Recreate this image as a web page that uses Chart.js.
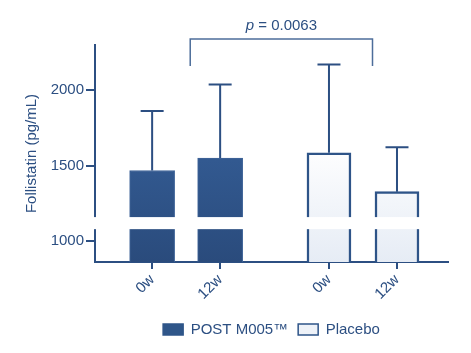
<!DOCTYPE html>
<html>
<head>
<meta charset="utf-8">
<script src="https://cdn.jsdelivr.net/npm/chart.js@4"></script>
<style>
  html, body { margin: 0; padding: 0; background: #fff; }
  #wrap { width: 471px; height: 353px; }
</style>
</head>
<body>
<div id="wrap"><canvas id="c"></canvas></div>
<script>
// values
const groupLabels = ["POST M005\u2122", "Placebo"];
const tickLabels = ["0w", "12w", "0w", "12w"];
const tickPos = [0, 1, 2.6, 3.6];
const postMeans = [1467, 1550];
const placeboMeans = [1585, 1327];
const postSD = [1862, 2038];     // top of error bar
const placeboSD = [2171, 1622];
const yTicks = [1000, 1500, 2000];
const pText = "= 0.0063";

const ink = "#2c4f82";
const yMin = 860, yMax = 2300;
const gapLow = 1078, gapHigh = 1158;
const bracket = { x1: 0.56, x2: 3.24, top: 2340, foot: 2160 };

function gradFill(ctx, c1, c2, stop) {
  const area = ctx.chart.chartArea;
  if (!area) return c2;
  const g = ctx.chart.ctx.createLinearGradient(0, area.top, 0, area.bottom);
  g.addColorStop(0, c1);
  g.addColorStop(stop, c1);
  g.addColorStop(1, c2);
  return g;
}

// error bars, gap in the axis and the p-value bracket
const extras = {
  id: "extras",
  afterDatasetsDraw(chart) {
    const ctx = chart.ctx;
    const xs = chart.scales.x, ys = chart.scales.y;
    const area = chart.chartArea;
    const tops = [postSD, placeboSD];
    const means = [postMeans, placeboMeans];
    ctx.save();
    ctx.strokeStyle = ink;
    ctx.lineWidth = 2;
    [0, 1].forEach(function(d) {
      chart.data.datasets[d].data.forEach(function(p, i) {
        const x = xs.getPixelForValue(p.x);
        const yb = ys.getPixelForValue(means[d][i]);
        const yt = ys.getPixelForValue(tops[d][i]);
        ctx.beginPath();
        ctx.moveTo(x, yb);
        ctx.lineTo(x, yt);
        ctx.moveTo(x - 11.5, yt);
        ctx.lineTo(x + 11.5, yt);
        ctx.stroke();
      });
    });

    // axis break
    const g1 = ys.getPixelForValue(gapHigh);
    const g2 = ys.getPixelForValue(gapLow);
    ctx.fillStyle = "#ffffff";
    ctx.fillRect(area.left - 3, g1, area.right - area.left + 6, g2 - g1);

    // bracket
    const bx1 = xs.getPixelForValue(bracket.x1);
    const bx2 = xs.getPixelForValue(bracket.x2);
    const by = ys.getPixelForValue(bracket.top);
    const bf = ys.getPixelForValue(bracket.foot);
    ctx.strokeStyle = "#4d6d9a";
    ctx.lineWidth = 1.5;
    ctx.beginPath();
    ctx.moveTo(bx1, bf);
    ctx.lineTo(bx1, by);
    ctx.lineTo(bx2, by);
    ctx.lineTo(bx2, bf);
    ctx.stroke();

    ctx.fillStyle = ink;
    ctx.textBaseline = "alphabetic";
    ctx.font = "italic 15px 'Liberation Sans', Arial, sans-serif";
    const pw = ctx.measureText("p ").width;
    ctx.font = "15px 'Liberation Sans', Arial, sans-serif";
    const tw = ctx.measureText(pText).width;
    const cx = (bx1 + bx2) / 2;
    let sx = cx - (pw + tw) / 2;
    ctx.font = "italic 15px 'Liberation Sans', Arial, sans-serif";
    ctx.fillText("p", sx, by - 9);
    ctx.font = "15px 'Liberation Sans', Arial, sans-serif";
    ctx.fillText(pText, sx + pw, by - 9);
    ctx.restore();
  }
};

new Chart(document.getElementById("c"), {
  type: "bar",
  data: {
    datasets: [
      {
        label: groupLabels[0],
        data: postMeans.map(function(v, i) { return { x: tickPos[i], y: v }; }),
        backgroundColor: function(ctx) { return gradFill(ctx, "#36609a", "#2a4b7c", 0.3); },
        borderColor: "#3f6498",
        borderWidth: 1,
        barThickness: 45
      },
      {
        label: groupLabels[1],
        data: placeboMeans.map(function(v, i) { return { x: tickPos[i + 2], y: v }; }),
        backgroundColor: function(ctx) { return gradFill(ctx, "#ffffff", "#e6ecf5", 0.45); },
        borderColor: "#2e5488",
        borderWidth: 2.5,
        barThickness: 44
      }
    ]
  },
  options: {
    responsive: true,
    maintainAspectRatio: false,
    animation: false,
    layout: { padding: { top: 45, right: 23, left: 0, bottom: 6 } },
    datasets: { bar: { grouped: false, base: yMin } },
    plugins: {
      legend: {
        display: true,
        position: "bottom",
        fullSize: false,
        labels: {
          color: ink,
          boxWidth: 20,
          boxHeight: 11,
          padding: 10,
          font: { family: "'Liberation Sans', Arial, sans-serif", size: 15 },
          generateLabels: function(chart) {
            const fills = ["#2f5689", "#eef2f8"];
            const edges = ["#2f5689", "#2e5488"];
            return chart.data.datasets.map(function(ds, i) {
              return {
                text: ds.label, fillStyle: fills[i], strokeStyle: edges[i],
                lineWidth: 1.5, fontColor: ink, datasetIndex: i, hidden: false
              };
            });
          }
        }
      },
      tooltip: { enabled: false }
    },
    scales: {
      x: {
        type: "linear",
        offset: false,
        min: -0.84,
        max: 4.35,
        afterBuildTicks: function(scale) {
          scale.ticks = tickPos.map(function(v) { return { value: v }; });
        },
        afterFit: function(scale) { scale.height = 50; },
        grid: { display: true, offset: false, drawOnChartArea: false, drawTicks: true, tickLength: 7, color: ink, lineWidth: 2 },
        border: { display: true, color: ink, width: 2 },
        ticks: {
          color: ink,
          minRotation: 45,
          maxRotation: 45,
          padding: 2,
          autoSkip: false,
          font: { family: "'Liberation Sans', Arial, sans-serif", size: 15 },
          callback: function(v) { return tickLabels[tickPos.indexOf(v)]; }
        }
      },
      y: {
        min: yMin,
        max: yMax,
        afterBuildTicks: function(scale) {
          scale.ticks = yTicks.map(function(v) { return { value: v }; });
        },
        afterFit: function(scale) { scale.width = 95; },
        grid: { display: true, drawOnChartArea: false, drawTicks: true, tickLength: 9, color: ink, lineWidth: 2 },
        border: { display: true, color: ink, width: 2 },
        ticks: {
          color: ink,
          padding: 2,
          font: { family: "'Liberation Sans', Arial, sans-serif", size: 15 },
          callback: function(v) { return String(v); }
        },
        title: {
          display: true,
          text: "Follistatin (pg/mL)",
          color: ink,
          padding: { top: 23 },
          font: { family: "'Liberation Sans', Arial, sans-serif", size: 15 }
        }
      }
    }
  },
  plugins: [extras]
});
</script>
</body>
</html>
